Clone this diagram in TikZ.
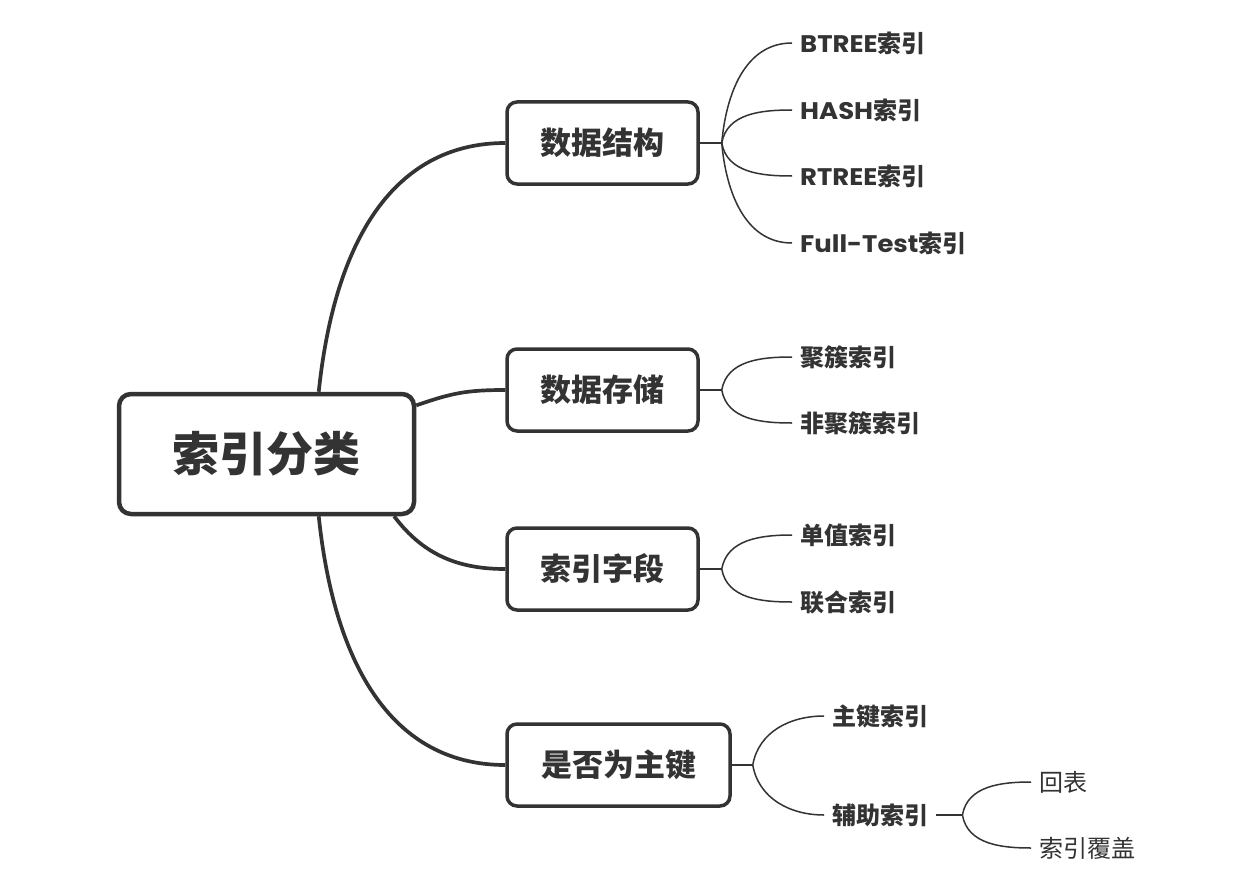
\documentclass[tikz,border=0pt]{standalone}
\usepackage{fontspec}
\setmainfont{Poppins}[FakeStretch=1.08]
\newfontfamily\cjk{Noto Sans CJK SC}
\newcommand{\zh}[1]{{\cjk #1}}
\usetikzlibrary{calc}
\definecolor{ink}{HTML}{333333}

\begin{document}
\begin{tikzpicture}[x=1pt, y=-1pt, ink, text=ink,
  root/.style = {draw, fill=white, line width=4.5pt, rounded corners=12pt, minimum width=295pt, minimum height=120pt, font=\cjk\bfseries\fontsize{47}{50}\selectfont},
  topic/.style = {draw, fill=white, line width=3.5pt, rounded corners=10pt, minimum height=82pt, font=\cjk\bfseries\fontsize{31}{36}\selectfont},
  leaf/.style = {anchor=west, inner xsep=8pt, inner ysep=0pt, font=\bfseries\fontsize{24}{26}\selectfont},
  subleaf/.style = {anchor=west, inner xsep=8pt, inner ysep=0pt, font=\cjk\fontsize{24}{26}\selectfont},
  trunk/.style = {line width=3.7pt},
  twig/.style = {line width=1.5pt}]
  \fill[white] (0,0) rectangle (1239,880);
  \useasboundingbox (0,0) rectangle (1239,880);

  % root and main topics
  \node[root] (idx) at (266.5,454) {索引分类};
  \node[topic, minimum width=191pt] (ds) at (602.5,143) {数据结构};
  \node[topic, minimum width=191pt] (st) at (602.5,390) {数据存储};
  \node[topic, minimum width=191pt] (fd) at (602.5,569) {索引字段};
  \node[topic, minimum width=223pt] (pk) at (618.5,765) {是否为主键};

  \draw[trunk] (idx.50) .. controls +(17,-162) and +(-105,0) .. (ds.west);
  \draw[trunk] (idx.18) .. controls +(35,-12) and +(-40,0) .. (st.west);
  \draw[trunk] (idx.-26) .. controls +(30,40) and +(-45,0) .. (fd.west);
  \draw[trunk] (idx.-50) .. controls +(17,162) and +(-105,0) .. (pk.west);

  % leaves
  \node[leaf] (bt) at (792,43) {BTREE\zh{索引}};
  \node[leaf] (hs) at (792,110) {HASH\zh{索引}};
  \node[leaf] (rt) at (792,176) {RTREE\zh{索引}};
  \node[leaf] (ft) at (792,243) {Full-Test\zh{索引}};
  \node[leaf] (cl) at (792,357) {\zh{聚簇索引}};
  \node[leaf] (nc) at (792,423) {\zh{非聚簇索引}};
  \node[leaf] (sg) at (792,535) {\zh{单值索引}};
  \node[leaf] (cp) at (792,602) {\zh{联合索引}};
  \node[leaf] (pi) at (824,716) {\zh{主键索引}};
  \node[leaf] (ax) at (824,815) {\zh{辅助索引}};
  \node[subleaf] (bk) at (1031,782) {回表};
  \node[subleaf] (cv) at (1031,848) {索引覆盖};

  \coordinate (j1) at ($(ds.east)+(22,0)$);
  \coordinate (j2) at ($(st.east)+(22,0)$);
  \coordinate (j3) at ($(fd.east)+(22,0)$);
  \coordinate (j4) at ($(pk.east)+(21,0)$);
  \coordinate (j5) at ($(ax.east)+(26,0)$);

  \draw[twig] (ds.east) -- (j1);
  \draw[twig] (j1) to[out=85, in=180] (bt.west);
  \draw[twig] (j1) to[out=80, in=180] (hs.west);
  \draw[twig] (j1) to[out=-80, in=180] (rt.west);
  \draw[twig] (j1) to[out=-85, in=180] (ft.west);

  \draw[twig] (st.east) -- (j2);
  \draw[twig] (j2) to[out=80, in=180] (cl.west);
  \draw[twig] (j2) to[out=-80, in=180] (nc.west);

  \draw[twig] (fd.east) -- (j3);
  \draw[twig] (j3) to[out=80, in=180] (sg.west);
  \draw[twig] (j3) to[out=-80, in=180] (cp.west);

  \draw[twig] (pk.east) -- (j4);
  \draw[twig] (j4) to[out=80, in=180] (pi.west);
  \draw[twig] (j4) to[out=-80, in=180] (ax.west);

  \draw[twig] (ax.east) -- (j5);
  \draw[twig] (j5) to[out=80, in=180] (bk.west);
  \draw[twig] (j5) to[out=-80, in=180] (cv.west);
\end{tikzpicture}
\end{document}
